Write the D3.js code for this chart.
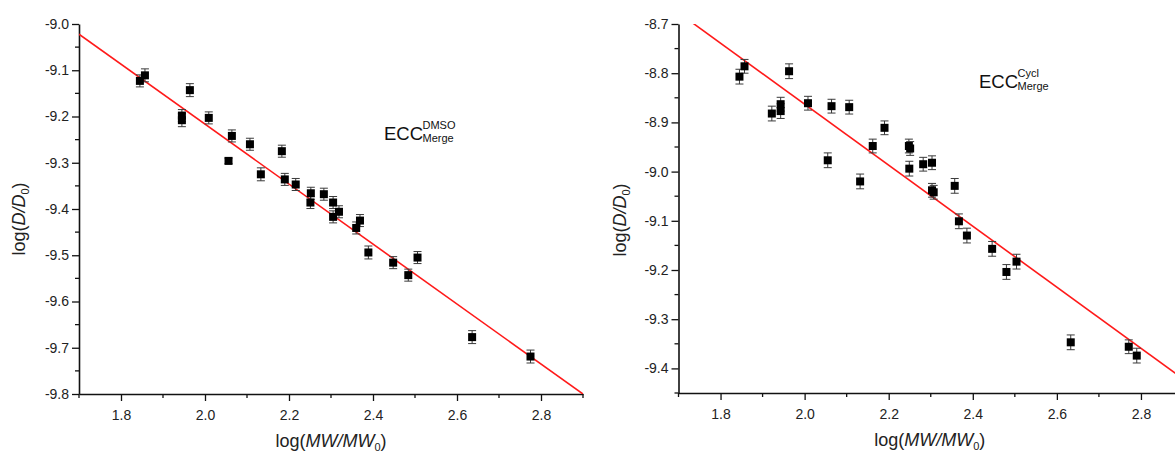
<!DOCTYPE html>
<html>
<head>
<meta charset="utf-8">
<script src="https://cdn.jsdelivr.net/npm/d3@7"></script>
<style>
  html, body { margin: 0; padding: 0; background: #fff; }
  svg { display: block; font-family: "Liberation Sans", Arial, sans-serif; }
</style>
</head>
<body>
<svg id="chart" width="1175" height="452"></svg>
<script>
// ---------- data ----------
const xTickValues = [1.8, 2.0, 2.2, 2.4, 2.6, 2.8];
const leftYTicks = [-9.0, -9.1, -9.2, -9.3, -9.4, -9.5, -9.6, -9.7, -9.8];
const rightYTicks = [-8.7, -8.8, -8.9, -9.0, -9.1, -9.2, -9.3, -9.4];

const leftX = [1.845, 1.857, 1.945, 1.945, 1.964, 2.009, 2.056, 2.064, 2.107, 2.133, 2.183, 2.190, 2.216,
               2.252, 2.251, 2.283, 2.305, 2.319, 2.305, 2.369, 2.360, 2.389, 2.448, 2.484, 2.506, 2.636, 2.775];
const leftY = [-9.123, -9.111, -9.198, -9.208, -9.143, -9.203, -9.296, -9.242, -9.260, -9.325, -9.275, -9.336, -9.347,
               -9.366, -9.386, -9.368, -9.386, -9.406, -9.417, -9.425, -9.441, -9.494, -9.516, -9.543, -9.505, -9.677, -9.719];
const leftErr = [0.013, 0.014, 0.013, 0.014, 0.014, 0.013, 0.006, 0.013, 0.013, 0.014, 0.013, 0.013, 0.013,
                 0.013, 0.013, 0.013, 0.013, 0.013, 0.013, 0.013, 0.013, 0.014, 0.013, 0.013, 0.013, 0.014, 0.014];
const leftFitX = [1.7, 2.9];
const leftFitY = [-9.022, -9.8];

const rightX = [1.845, 1.857, 1.922, 1.943, 1.943, 1.963, 2.008, 2.055, 2.064, 2.106, 2.132, 2.162, 2.190,
                2.248, 2.251, 2.249, 2.282, 2.303, 2.303, 2.307, 2.357, 2.367, 2.386, 2.446, 2.480, 2.504, 2.633, 2.771, 2.790];
const rightY = [-8.807, -8.786, -8.882, -8.863, -8.877, -8.796, -8.861, -8.977, -8.867, -8.869, -9.020, -8.948, -8.911,
                -8.948, -8.953, -8.994, -8.985, -8.982, -9.038, -9.042, -9.029, -9.101, -9.130, -9.157, -9.204, -9.183, -9.347, -9.356, -9.374];
const rightErr = [0.015, 0.014, 0.015, 0.014, 0.015, 0.015, 0.014, 0.015, 0.014, 0.014, 0.015, 0.014, 0.014,
                  0.014, 0.014, 0.015, 0.014, 0.014, 0.014, 0.014, 0.015, 0.015, 0.015, 0.015, 0.015, 0.015, 0.015, 0.014, 0.015];
const rightFitX = [1.7, 2.9];
const rightFitY = [-8.677, -9.421];

// ---------- drawing ----------
const svg = d3.select("#chart");

function drawPanel(cfg) {
  const x = d3.scaleLinear().domain(cfg.xDomain).range(cfg.xRange);
  const y = d3.scaleLinear().domain(cfg.yDomain).range(cfg.yRange);
  const g = svg.append("g");

  const clipId = "clip" + cfg.id;
  svg.append("clipPath").attr("id", clipId).append("rect")
    .attr("x", cfg.xRange[0]).attr("y", cfg.yRange[1])
    .attr("width", cfg.xRange[1] - cfg.xRange[0])
    .attr("height", cfg.yRange[0] - cfg.yRange[1]);

  // minor ticks
  const xMinor = d3.range(Math.round(cfg.xDomain[0] * 10), Math.round(cfg.xDomain[1] * 10) + 1)
    .map(v => v / 10).filter(v => !xTickValues.some(t => Math.abs(t - v) < 1e-9));
  const yMinorVals = d3.range(Math.round(cfg.yDomain[0] * 20), Math.round(cfg.yDomain[1] * 20) + 1)
    .map(v => v / 20).filter(v => !cfg.yTicks.some(t => Math.abs(t - v) < 1e-9));

  const xAxis = d3.axisBottom(x).tickValues(xTickValues).tickFormat(d3.format(".1f")).tickSize(7).tickPadding(9).tickSizeOuter(0);
  const yAxis = d3.axisLeft(y).tickValues(cfg.yTicks).tickFormat(d3.format(".1f")).tickSize(7).tickPadding(3).tickSizeOuter(0);

  const xg = g.append("g").attr("transform", `translate(0,${cfg.yRange[0]})`).call(xAxis);
  const yg = g.append("g").attr("transform", `translate(${cfg.xRange[0]},0)`).call(yAxis);
  xg.append("g").selectAll("line").data(xMinor).join("line")
    .attr("x1", d => x(d)).attr("x2", d => x(d)).attr("y1", 0).attr("y2", 4).attr("stroke", "#111").attr("stroke-width", 1.3);
  yg.append("g").selectAll("line").data(yMinorVals).join("line")
    .attr("y1", d => y(d)).attr("y2", d => y(d)).attr("x1", 0).attr("x2", -4).attr("stroke", "#111").attr("stroke-width", 1.3);

  [xg, yg].forEach(a => {
    a.select(".domain").attr("stroke", "#111").attr("stroke-width", 1.6);
    a.selectAll(".tick line").attr("stroke", "#111").attr("stroke-width", 1.3);
    a.selectAll("text").attr("font-size", 14).attr("fill", "#222")
      .attr("font-family", "'Liberation Sans', Arial, sans-serif");
  });
  yg.selectAll(".tick text").text(d => d3.format(".1f")(d).replace("−", "-"));

  // fit line
  const fit = cfg.fitX.map((v, i) => [v, cfg.fitY[i]]);
  g.append("path").datum(fit)
    .attr("clip-path", `url(#${clipId})`)
    .attr("d", d3.line().x(d => x(d[0])).y(d => y(d[1])))
    .attr("fill", "none").attr("stroke", "#ff1a1a").attr("stroke-width", 1.6);

  // error bars
  const pts = cfg.xs.map((v, i) => ({ x: v, y: cfg.ys[i], e: cfg.errs[i] }));
  const eb = g.append("g").attr("stroke", "#3a3a3a").attr("stroke-width", 1);
  eb.selectAll("line.v").data(pts).join("line")
    .attr("x1", d => x(d.x)).attr("x2", d => x(d.x))
    .attr("y1", d => y(d.y - d.e)).attr("y2", d => y(d.y + d.e));
  eb.selectAll("line.t").data(pts).join("line")
    .attr("x1", d => x(d.x) - 4).attr("x2", d => x(d.x) + 4)
    .attr("y1", d => y(d.y + d.e)).attr("y2", d => y(d.y + d.e));
  eb.selectAll("line.b").data(pts).join("line")
    .attr("x1", d => x(d.x) - 4).attr("x2", d => x(d.x) + 4)
    .attr("y1", d => y(d.y - d.e)).attr("y2", d => y(d.y - d.e));

  // markers
  g.append("g").selectAll("rect").data(pts).join("rect")
    .attr("x", d => x(d.x) - 4).attr("y", d => y(d.y) - 4)
    .attr("width", 8).attr("height", 8).attr("fill", "#000");

  // x title
  const xt = g.append("text").attr("x", (cfg.xRange[0] + cfg.xRange[1]) / 2 - (cfg.id === "R" ? 1 : 0))
    .attr("y", cfg.xTitleY).attr("text-anchor", "middle").attr("font-size", 18).attr("fill", "#222");
  xt.append("tspan").text("log(");
  xt.append("tspan").attr("font-style", "italic").text("MW/MW");
  xt.append("tspan").attr("font-size", 11).attr("dy", 4).text("0");
  xt.append("tspan").attr("dy", -4).text(")");

  // y title
  const yt = g.append("text").attr("transform", `translate(${cfg.yTitleX},${cfg.yTitleCY}) rotate(-90)`)
    .attr("text-anchor", "middle").attr("font-size", 18).attr("fill", "#222");
  yt.append("tspan").text("log(");
  yt.append("tspan").attr("font-style", "italic").text("D/D");
  yt.append("tspan").attr("font-size", 11).attr("dy", 4).text("0");
  yt.append("tspan").attr("dy", -4).text(")");

  // annotation
  const lab = g.append("g").attr("fill", "#111");
  lab.append("text").attr("x", cfg.labX).attr("y", cfg.labY).attr("font-size", 18.5).text("ECC");
  lab.append("text").attr("x", cfg.labX + 38.5).attr("y", cfg.labY - 10.5).attr("font-size", 11).text(cfg.sup);
  lab.append("text").attr("x", cfg.labX + 38.5).attr("y", cfg.labY + 2.8).attr("font-size", 11).text("Merge");
}

drawPanel({
  id: "L", xDomain: [1.7, 2.9], xRange: [79, 583], yDomain: [-9.8, -9.0], yRange: [394, 24],
  yTicks: leftYTicks, xs: leftX, ys: leftY, errs: leftErr, fitX: leftFitX, fitY: leftFitY,
  xTitleY: 447, yTitleX: 25, yTitleCY: 219, labX: 384, labY: 139.5, sup: "DMSO"
});
drawPanel({
  id: "R", xDomain: [1.7, 2.9], xRange: [678.5, 1183], yDomain: [-9.45, -8.7], yRange: [393, 24],
  yTicks: rightYTicks, xs: rightX, ys: rightY, errs: rightErr, fitX: rightFitX, fitY: rightFitY,
  xTitleY: 446, yTitleX: 626, yTitleCY: 220, labX: 979, labY: 87.5, sup: "Cycl"
});
</script>
</body>
</html>
